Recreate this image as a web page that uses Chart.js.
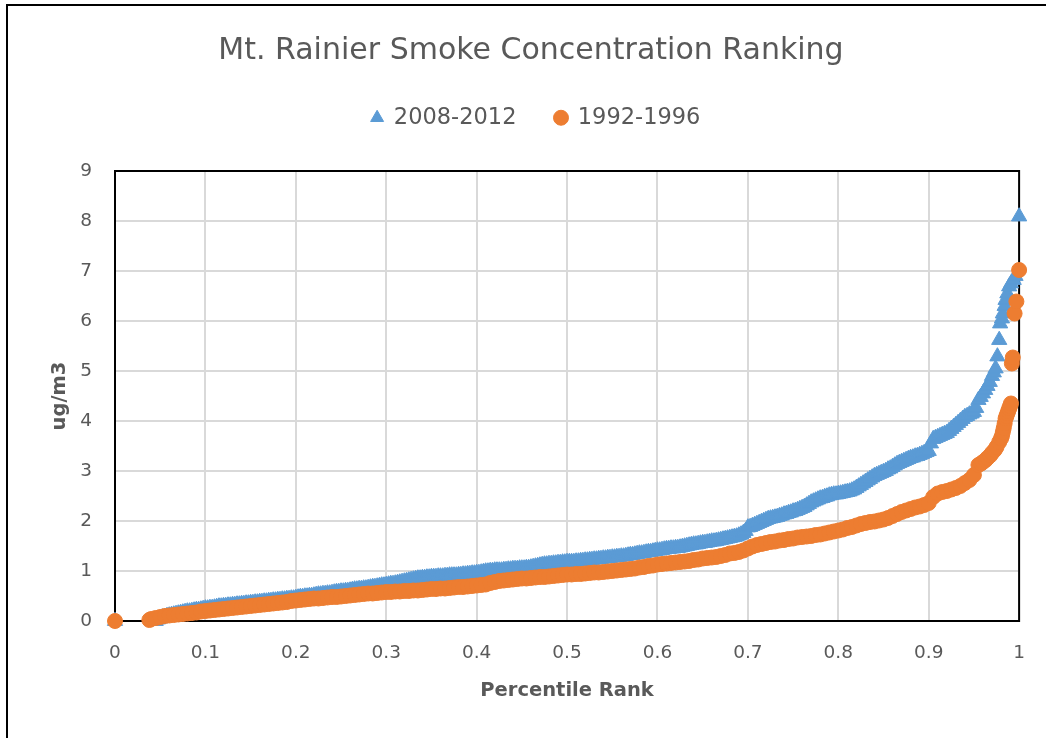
<!DOCTYPE html>
<html>
<head>
<meta charset="utf-8">
<script src="https://cdn.jsdelivr.net/npm/chart.js@4/dist/chart.umd.min.js"></script>
<style>
html,body{margin:0;padding:0;background:#fff;overflow:hidden;}
#wrap{position:relative;width:1046px;height:738px;}
#c{position:absolute;left:0;top:0;}
#frame{position:absolute;left:6px;top:4px;width:1100px;height:800px;border-left:2px solid #000;border-top:2px solid #000;pointer-events:none;}
</style>
</head>
<body>
<div id="wrap"><canvas id="c" width="1046" height="738" style="width:1046px;height:738px"></canvas><div id="frame"></div></div>
<script>
const chartTitle = 'Mt. Rainier Smoke Concentration Ranking';
const xAxisTitle = 'Percentile Rank';
const yAxisTitle = 'ug/m3';
const seriesNames = ['2008-2012', '1992-1996'];
const xTickLabels = ['0','0.1','0.2','0.3','0.4','0.5','0.6','0.7','0.8','0.9','1'];
const yTickLabels = ['0','1','2','3','4','5','6','7','8','9'];

// 2008-2012 series (percentile rank, ug/m3)
const ranks2008 = [0,0.045,0.0475,
0.05,0.0525,0.055,0.0575,0.06,0.0625,0.065,0.0675,0.07,0.0725,0.075,0.0775,0.08,0.0825,0.085,0.0875,0.09,0.0925,0.095,0.0975,
0.1,0.1025,0.105,0.1075,0.11,0.1125,0.115,0.1175,0.12,0.1225,0.125,0.1275,0.13,0.1325,0.135,0.1375,0.14,0.1425,0.145,0.1475,
0.15,0.1525,0.155,0.1575,0.16,0.1625,0.165,0.1675,0.17,0.1725,0.175,0.1775,0.18,0.1825,0.185,0.1875,0.19,0.1925,0.195,0.1975,
0.2,0.2025,0.205,0.2075,0.21,0.2125,0.215,0.2175,0.22,0.2225,0.225,0.2275,0.23,0.2325,0.235,0.2375,0.24,0.2425,0.245,0.2475,
0.25,0.2525,0.255,0.2575,0.26,0.2625,0.265,0.2675,0.27,0.2725,0.275,0.2775,0.28,0.2825,0.285,0.2875,0.29,0.2925,0.295,0.2975,
0.3,0.3025,0.305,0.3075,0.31,0.3125,0.315,0.3175,0.32,0.3225,0.325,0.3275,0.33,0.3325,0.335,0.3375,0.34,0.3425,0.345,0.3475,
0.35,0.3525,0.355,0.3575,0.36,0.3625,0.365,0.3675,0.37,0.3725,0.375,0.3775,0.38,0.3825,0.385,0.3875,0.39,0.3925,0.395,0.3975,
0.4,0.4025,0.405,0.4075,0.41,0.4125,0.415,0.4175,0.42,0.4225,0.425,0.4275,0.43,0.4325,0.435,0.4375,0.44,0.4425,0.445,0.4475,
0.45,0.4525,0.455,0.4575,0.46,0.4625,0.465,0.4675,0.47,0.4725,0.475,0.4775,0.48,0.4825,0.485,0.4875,0.49,0.4925,0.495,0.4975,
0.5,0.5025,0.505,0.5075,0.51,0.5125,0.515,0.5175,0.52,0.5225,0.525,0.5275,0.53,0.5325,0.535,0.5375,0.54,0.5425,0.545,0.5475,
0.55,0.5525,0.555,0.5575,0.56,0.5625,0.565,0.5675,0.57,0.5725,0.575,0.5775,0.58,0.5825,0.585,0.5875,0.59,0.5925,0.595,0.5975,
0.6,0.6025,0.605,0.6075,0.61,0.6125,0.615,0.6175,0.62,0.6225,0.625,0.6275,0.63,0.6325,0.635,0.6375,0.64,0.6425,0.645,0.6475,
0.65,0.6525,0.655,0.6575,0.66,0.6625,0.665,0.6675,0.67,0.6725,0.675,0.6775,0.68,0.6825,0.685,0.6875,0.69,0.6925,0.695,0.6975,
0.7,0.7025,0.705,0.7075,0.71,0.7125,0.715,0.7175,0.72,0.7225,0.725,0.7275,0.73,0.7325,0.735,0.7375,0.74,0.7425,0.745,0.7475,
0.75,0.7525,0.755,0.7575,0.76,0.7625,0.765,0.7675,0.77,0.7725,0.775,0.7775,0.78,0.7825,0.785,0.7875,0.79,0.7925,0.795,0.7975,
0.8,0.8025,0.805,0.8075,0.81,0.8125,0.815,0.8175,0.82,0.8225,0.825,0.8275,0.83,0.8325,0.835,0.8375,0.84,0.8425,0.845,0.8475,
0.85,0.8525,0.855,0.8575,0.86,0.8625,0.865,0.8675,0.87,0.8725,0.875,0.8775,0.88,0.8825,0.885,0.8875,0.89,0.8925,0.895,0.8975,
0.9,0.9025,0.905,0.9075,0.91,0.9125,0.915,0.9175,0.92,0.9225,0.925,0.9275,0.93,0.9325,0.935,0.9375,0.94,0.9425,0.945,0.9475,
0.95,0.9525,0.955,0.9575,0.96,0.9625,0.965,0.9675,0.97,0.972,0.974,0.976,0.978,0.979,0.981,0.982,0.984,0.985,0.987,0.989,0.991,0.994,0.996,1];
const values2008 = [0,0,0.03,
0.05,0.07,0.08,0.10,0.11,0.12,0.13,0.14,0.15,0.16,0.17,0.18,0.19,0.19,0.20,0.21,0.22,0.22,0.23,0.24,
0.25,0.25,0.26,0.26,0.27,0.28,0.29,0.29,0.30,0.30,0.31,0.31,0.32,0.32,0.33,0.33,0.34,0.34,0.35,0.35,
0.36,0.36,0.37,0.37,0.38,0.38,0.39,0.39,0.40,0.40,0.41,0.41,0.42,0.42,0.43,0.43,0.44,0.44,0.45,0.45,
0.46,0.47,0.48,0.48,0.49,0.49,0.50,0.50,0.51,0.52,0.53,0.53,0.54,0.54,0.55,0.55,0.56,0.57,0.58,0.58,
0.59,0.59,0.60,0.60,0.61,0.62,0.63,0.63,0.64,0.64,0.65,0.65,0.66,0.67,0.68,0.68,0.69,0.70,0.71,0.71,
0.72,0.73,0.74,0.74,0.75,0.76,0.77,0.78,0.79,0.80,0.81,0.82,0.83,0.84,0.85,0.85,0.86,0.86,0.87,0.87,
0.88,0.88,0.88,0.89,0.89,0.89,0.90,0.90,0.91,0.91,0.91,0.91,0.92,0.92,0.93,0.93,0.94,0.94,0.95,0.95,
0.96,0.96,0.97,0.98,0.99,0.99,1.00,1.00,1.01,1.01,1.01,1.01,1.02,1.02,1.03,1.03,1.04,1.04,1.04,1.05,
1.05,1.05,1.06,1.06,1.07,1.08,1.09,1.10,1.11,1.12,1.13,1.13,1.14,1.14,1.15,1.15,1.16,1.16,1.17,1.17,
1.18,1.18,1.18,1.18,1.19,1.19,1.20,1.20,1.21,1.21,1.22,1.22,1.23,1.23,1.24,1.24,1.25,1.25,1.26,1.26,
1.27,1.27,1.28,1.28,1.29,1.29,1.30,1.31,1.32,1.32,1.33,1.34,1.35,1.35,1.36,1.37,1.38,1.38,1.39,1.40,
1.41,1.41,1.42,1.43,1.44,1.44,1.45,1.45,1.46,1.46,1.47,1.48,1.49,1.50,1.51,1.52,1.53,1.53,1.54,1.55,
1.56,1.56,1.57,1.58,1.59,1.59,1.60,1.61,1.62,1.63,1.64,1.65,1.66,1.67,1.68,1.69,1.71,1.73,1.76,1.80,
1.87,1.88,1.90,1.92,1.94,1.96,1.98,2.00,2.02,2.04,2.05,2.06,2.07,2.08,2.10,2.11,2.13,2.14,2.16,2.17,
2.19,2.20,2.22,2.24,2.26,2.28,2.31,2.34,2.37,2.39,2.41,2.43,2.45,2.46,2.48,2.49,2.51,2.52,2.53,2.53,
2.54,2.55,2.56,2.57,2.58,2.59,2.61,2.63,2.66,2.69,2.72,2.75,2.78,2.81,2.84,2.87,2.90,2.92,2.94,2.96,
2.98,3.00,3.03,3.05,3.08,3.11,3.14,3.16,3.18,3.20,3.22,3.24,3.26,3.27,3.29,3.30,3.32,3.34,3.36,3.38,
3.40,3.55,3.64,3.66,3.68,3.70,3.72,3.74,3.76,3.80,3.84,3.88,3.92,3.96,4.00,4.04,4.08,4.10,4.13,4.15,
4.18,4.26,4.42,4.48,4.55,4.62,4.70,4.78,4.90,4.97,5.05,5.29,5.62,5.95,6.05,6.15,6.30,6.42,6.55,6.69,6.75,6.82,6.90,8.09];

// 1992-1996 series (percentile rank, ug/m3)
const ranks1992 = [0,0.038,0.04,0.045,0.05,0.055,0.06,0.065,0.07,0.075,0.08,0.085,0.09,0.095,0.1,0.105,0.11,0.115,0.12,0.125,0.13,0.135,0.14,0.145,0.15,0.155,0.16,0.165,0.17,0.175,0.18,0.185,0.19,0.195,0.2,0.205,0.21,0.215,0.22,0.225,0.23,0.235,0.24,0.245,0.25,0.255,0.26,0.265,0.27,0.275,0.28,0.285,0.29,0.295,0.3,0.305,0.31,0.315,0.32,0.325,0.33,0.335,0.34,0.345,0.35,0.355,0.36,0.365,0.37,0.375,0.38,0.385,0.39,0.395,0.4,0.405,0.41,0.415,0.42,0.425,0.43,0.435,0.44,0.445,0.45,0.455,0.46,0.465,0.47,0.475,0.48,0.485,0.49,0.495,0.5,0.505,0.51,0.515,0.52,0.525,0.53,0.535,0.54,0.545,0.55,0.555,0.56,0.565,0.57,0.575,0.58,0.585,0.59,0.595,0.6,0.605,0.61,0.615,0.62,0.625,0.63,0.635,0.64,0.645,0.65,0.655,0.66,0.665,0.67,0.675,0.68,0.685,0.69,0.695,0.7,0.705,0.71,0.715,0.72,0.725,0.73,0.735,0.74,0.745,0.75,0.755,0.76,0.765,0.77,0.775,0.78,0.785,0.79,0.795,0.8,0.805,0.81,0.815,0.82,0.825,0.83,0.835,0.84,0.845,0.85,0.855,0.86,0.865,0.87,0.875,0.88,0.885,0.89,0.895,0.9,0.905,0.91,0.915,0.92,0.925,0.93,0.935,0.94,0.945,0.95,0.955,0.958,0.96,0.963,0.965,0.968,0.97,0.973,0.975,0.978,0.98,0.981,0.982,0.983,0.984,0.985,0.986,0.987,0.988,0.989,0.99,0.991,0.992,0.993,0.995,0.997,1];
const values1992 = [0,0.02,0.04,0.06,0.08,0.1,0.11,0.12,0.13,0.14,0.15,0.16,0.17,0.19,0.2,0.21,0.22,0.23,0.24,0.25,0.26,0.27,0.28,0.29,0.3,0.31,0.32,0.33,0.34,0.35,0.36,0.37,0.38,0.4,0.41,0.42,0.43,0.44,0.45,0.45,0.46,0.47,0.48,0.48,0.49,0.5,0.51,0.52,0.53,0.54,0.55,0.55,0.56,0.57,0.58,0.58,0.59,0.59,0.6,0.6,0.61,0.61,0.62,0.63,0.64,0.64,0.65,0.65,0.66,0.67,0.68,0.68,0.69,0.7,0.71,0.72,0.73,0.76,0.78,0.8,0.81,0.82,0.83,0.84,0.85,0.85,0.86,0.87,0.88,0.88,0.89,0.9,0.91,0.92,0.93,0.93,0.94,0.94,0.95,0.96,0.97,0.97,0.98,0.99,1,1.01,1.02,1.03,1.04,1.05,1.07,1.08,1.1,1.11,1.13,1.14,1.15,1.16,1.17,1.18,1.19,1.2,1.22,1.23,1.25,1.26,1.27,1.28,1.3,1.32,1.35,1.36,1.38,1.41,1.45,1.49,1.52,1.54,1.56,1.58,1.59,1.61,1.62,1.64,1.65,1.67,1.68,1.69,1.7,1.72,1.73,1.75,1.77,1.79,1.81,1.83,1.86,1.88,1.91,1.94,1.96,1.98,1.99,2.01,2.03,2.06,2.1,2.14,2.18,2.21,2.24,2.27,2.29,2.32,2.36,2.48,2.55,2.58,2.6,2.63,2.66,2.7,2.76,2.82,2.92,3.12,3.15,3.18,3.22,3.26,3.31,3.36,3.42,3.48,3.58,3.65,3.7,3.78,3.86,3.95,4.05,4.1,4.15,4.2,4.25,4.3,4.35,5.15,5.27,6.15,6.39,7.02];

const BLUE = '#5b9bd5';
const ORANGE = '#ed7d31';
const TXT = '#595959';
const FONT = "'DejaVu Sans', sans-serif";

const toPoints = (xs, ys) => xs.map((x, i) => ({x: x, y: ys[i]}));

const plotBorder = {
  id: 'plotBorder',
  beforeDatasetsDraw(chart) {
    const {ctx, chartArea: a} = chart;
    ctx.save();
    ctx.strokeStyle = '#000';
    ctx.lineWidth = 2;
    ctx.strokeRect(a.left, a.top, a.right - a.left, a.bottom - a.top);
    ctx.restore();
  }
};

const legendSpacer = {
  id: 'legendSpacer',
  beforeLayout(chart) {
    const lg = chart.legend;
    if (lg && !lg._spaced) {
      const f = lg.fit;
      lg.fit = function () { f.call(this); this.height += 32; };
      lg._spaced = true;
    }
  },
  afterLayout(chart) {
    if (chart.legend) chart.legend.left += 10;
  }
};

new Chart(document.getElementById('c').getContext('2d'), {
  type: 'scatter',
  data: {
    datasets: [
      {
        label: seriesNames[0],
        data: toPoints(ranks2008, values2008),
        pointStyle: 'triangle',
        pointRadius: 8.8,
        backgroundColor: BLUE,
        borderColor: BLUE,
        borderWidth: 1,
        clip: false,
        order: 1
      },
      {
        label: seriesNames[1],
        data: toPoints(ranks1992, values1992),
        pointStyle: 'circle',
        pointRadius: 7.5,
        backgroundColor: ORANGE,
        borderColor: ORANGE,
        borderWidth: 1,
        clip: false,
        order: 0
      }
    ]
  },
  options: {
    responsive: false,
    animation: false,
    events: [],
    layout: { padding: { left: 42, right: 26, top: 0, bottom: 0 } },
    plugins: {
      title: {
        display: true,
        text: chartTitle,
        color: TXT,
        font: { family: FONT, size: 30, weight: 'normal', lineHeight: 1.1 },
        padding: { top: 34.5, bottom: 0 }
      },
      legend: {
        display: true,
        position: 'top',
        labels: {
          usePointStyle: true,
          boxWidth: 11,
          boxHeight: 10.6,
          padding: 39,
          color: TXT,
          font: { family: FONT, size: 22.5 },
          sort: (a, b) => a.datasetIndex - b.datasetIndex
        }
      },
      tooltip: { enabled: false }
    },
    scales: {
      x: {
        type: 'linear',
        min: 0,
        max: 1,
        afterFit(s) { s.height = 117; },
        ticks: {
          stepSize: 0.1,
          padding: 21,
          color: TXT,
          font: { family: FONT, size: 18.5 },
          callback: (v, i) => xTickLabels[i]
        },
        grid: { color: '#d9d9d9', lineWidth: 2, drawTicks: false },
        border: { display: false },
        title: {
          display: true,
          text: xAxisTitle,
          color: TXT,
          font: { family: FONT, size: 19.5, weight: 'bold' },
          padding: { bottom: 35 }
        }
      },
      y: {
        type: 'linear',
        min: 0,
        max: 9,
        afterFit(s) { s.width = 73; },
        ticks: {
          stepSize: 1,
          padding: 23,
          color: TXT,
          font: { family: FONT, size: 18.5 },
          callback: (v, i) => yTickLabels[i]
        },
        grid: { color: '#d9d9d9', lineWidth: 2, drawTicks: false },
        border: { display: false },
        title: {
          display: true,
          text: yAxisTitle,
          color: TXT,
          font: { family: FONT, size: 19.5, weight: 'bold' },
          padding: { top: 6.3 }
        }
      }
    }
  },
  plugins: [plotBorder, legendSpacer]
});
</script>
</body>
</html>
